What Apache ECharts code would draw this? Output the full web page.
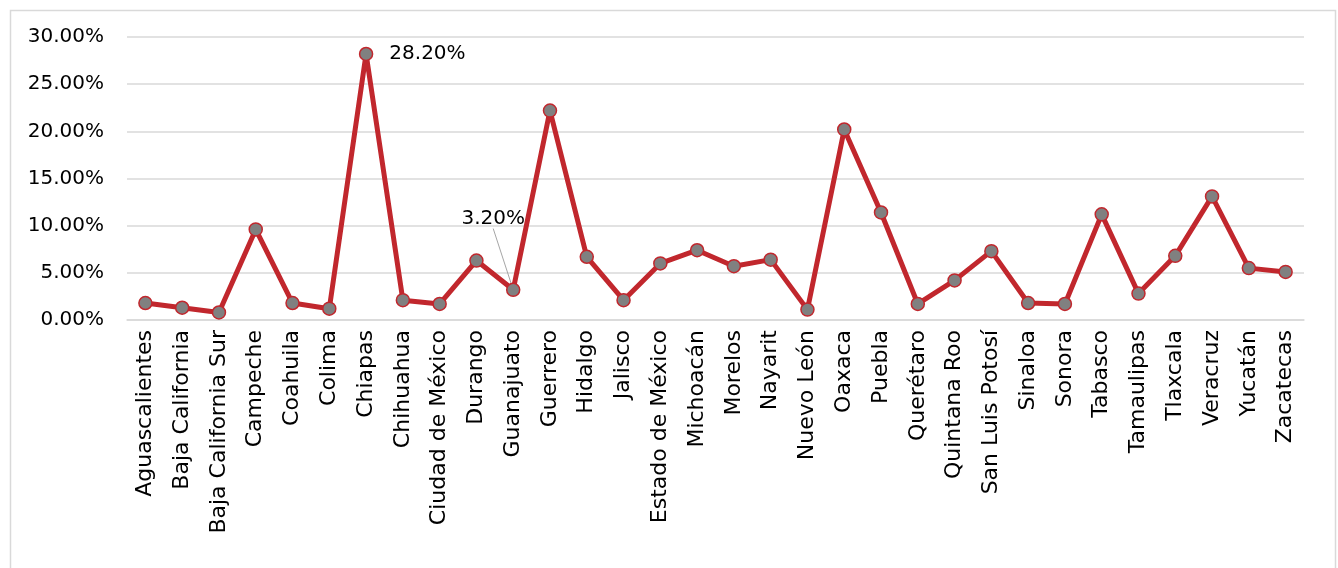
<!DOCTYPE html>
<html>
<head>
<meta charset="utf-8">
<script src="https://cdn.jsdelivr.net/npm/echarts@6/dist/echarts.min.js"></script>
<style>
html,body{margin:0;padding:0;background:#fff;}
#chart{width:1338px;height:568px;}
</style>
</head>
<body>
<div id="chart"></div>
<script>
const categories = ["Aguascalientes","Baja California","Baja California Sur","Campeche","Coahuila","Colima","Chiapas","Chihuahua","Ciudad de México","Durango","Guanajuato","Guerrero","Hidalgo","Jalisco","Estado de México","Michoacán","Morelos","Nayarit","Nuevo León","Oaxaca","Puebla","Querétaro","Quintana Roo","San Luis Potosí","Sinaloa","Sonora","Tabasco","Tamaulipas","Tlaxcala","Veracruz","Yucatán","Zacatecas"];
const values = [1.8,1.3,0.8,9.6,1.8,1.2,28.2,2.1,1.7,6.3,3.2,22.2,6.7,2.1,6.0,7.4,5.7,6.4,1.1,20.2,11.4,1.7,4.2,7.3,1.8,1.7,11.2,2.8,6.8,13.1,5.5,5.1];
const labeledPoints = ["Chiapas","Guanajuato"];
const yTicks = [0,5,10,15,20,25,30];

const FONT = "'DejaVu Sans', sans-serif";
const chart = echarts.init(document.getElementById('chart'));

const seriesData = values.map((v, i) => {
  const item = { value: v };
  if (categories[i] === "Chiapas") {
    item.label = { show: true, position: 'right', distance: 16 };
  } else if (categories[i] === "Guanajuato") {
    item.label = { show: true, position: 'top', distance: 6 };
    item.labelLine = { show: true, lineStyle: { color: '#a6a6a6', width: 1 } };
  }
  return item;
});

chart.setOption({
  animation: false,
  backgroundColor: '#ffffff',
  graphic: [{
    type: 'rect',
    left: 8, top: 8,
    shape: { width: 1325, height: 580 },
    style: { fill: 'none', stroke: '#d9d9d9', lineWidth: 1.5 },
    silent: true
  }],
  grid: { left: 127, top: 37, width: 1177, height: 283, containLabel: false },
  xAxis: {
    type: 'category',
    data: categories,
    boundaryGap: true,
    axisLine: { show: true, lineStyle: { color: '#d9d9d9', width: 1.5 } },
    axisTick: { show: false },
    axisLabel: {
      rotate: 90, interval: 0, margin: 10,
      color: '#000', fontFamily: FONT, fontSize: 22
    }
  },
  yAxis: {
    type: 'value',
    min: yTicks[0], max: yTicks[yTicks.length - 1], interval: 5,
    axisLine: { show: false },
    axisTick: { show: false },
    splitLine: { lineStyle: { color: '#d9d9d9', width: 1.5 } },
    axisLabel: {
      margin: 23, color: '#000', fontFamily: FONT, fontSize: 20,
      formatter: v => v.toFixed(2) + '%'
    }
  },
  series: [{
    type: 'line',
    data: seriesData,
    symbol: 'circle',
    symbolSize: 13,
    lineStyle: { color: '#c1272d', width: 5 },
    itemStyle: { color: '#808080', borderColor: '#c1272d', borderWidth: 1.5 },
    label: {
      show: false, color: '#000', fontFamily: FONT, fontSize: 20,
      formatter: p => p.value.toFixed(2) + '%'
    },
    labelLayout: function (params) {
      if (params.dataIndex === categories.indexOf("Guanajuato")) {
        return { dx: -20, dy: -48 };
      }
      return {};
    },
    z: 3
  }]
});
</script>
</body>
</html>
